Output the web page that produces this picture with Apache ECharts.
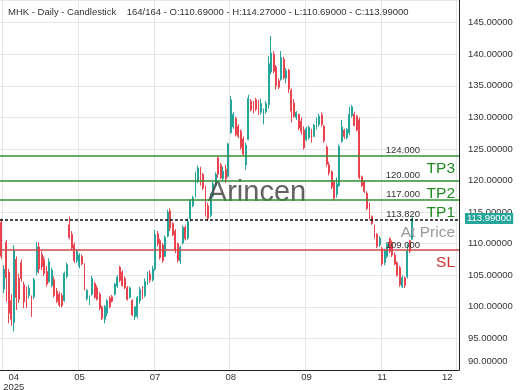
<!DOCTYPE html>
<html><head><meta charset="utf-8">
<script src="https://cdn.jsdelivr.net/npm/echarts@6/dist/echarts.min.js"></script>
<style>html,body{margin:0;padding:0;background:#fff}#c{width:520px;height:390px}</style>
</head><body><div id="c"></div>
<script>
const symbolName = 'MHK';
const slotCount = 182;
const tickIndex = [1, 31, 61, 91, 121, 151, 181];
const tickText = ['04\n2025', '05', '07', '08', '09', '11', '12'];
// [open, close, low, high]
const candles = [
[113.4,108.0,107.6,114.0],[102.8,106.0,102.2,106.6],[110.2,104.6,100.8,110.6],[105.5,99.0,97.4,106.0],[101.0,98.0,97.0,102.0],
[97.5,109.0,96.1,109.8],[107.5,101.5,99.5,108.0],[104.5,101.2,100.6,105.3],[107.0,104.5,104.0,107.5],[103.5,100.8,99.8,104.0],
[102.8,100.3,99.8,103.2],[101.8,103.0,101.3,103.5],[101.3,98.8,98.4,101.8],[101.6,104.3,101.2,104.6],[105.5,109.5,105.0,110.3],
[109.5,106.0,105.3,110.2],[108.3,106.4,105.8,108.8],[107.5,105.3,104.9,108.0],[105.6,103.6,103.2,106.5],[104.0,107.2,103.8,107.7],
[103.4,105.8,103.1,106.2],[104.3,101.8,101.5,104.8],[102.5,100.9,100.6,103.0],[102.0,100.3,100.0,102.4],[101.8,100.2,99.9,102.2],
[101.0,105.3,100.8,105.6],[104.8,106.7,104.5,107.0],[113.0,111.0,110.7,114.3],[111.5,109.3,109.0,112.0],[109.8,107.3,107.0,110.2],
[107.3,108.8,107.0,109.0],[106.5,108.2,106.1,108.5],[108.0,106.8,106.6,108.3],[106.6,103.0,102.6,106.9],[101.3,102.6,101.0,102.8],
[100.5,101.5,100.3,101.8],[102.0,104.5,101.8,104.9],[103.7,101.5,101.3,104.0],[103.0,101.2,101.0,103.4],[102.0,99.8,99.5,102.3],
[100.0,98.2,97.9,100.2],[98.0,100.0,97.4,100.3],[99.0,101.0,98.5,101.2],[101.4,100.0,99.8,101.7],[101.6,100.9,100.7,101.9],
[102.0,103.6,101.8,103.8],[103.3,104.7,103.0,105.0],[106.3,104.2,103.9,106.5],[105.5,103.4,103.2,105.8],[104.5,103.0,102.8,104.8],
[103.0,101.2,101.0,103.3],[101.5,103.0,101.3,103.2],[101.0,98.7,98.5,101.2],[98.4,100.0,97.9,100.1],[98.5,101.5,98.2,101.7],
[101.0,102.8,100.5,103.2],[102.8,101.6,101.2,103.3],[101.8,104.0,101.5,104.5],[103.8,105.0,103.5,105.6],[105.2,104.2,103.8,105.8],
[104.3,106.0,104.0,106.5],[106.0,111.5,105.7,112.2],[111.6,110.0,109.6,112.0],[110.5,107.8,107.5,110.8],[109.8,107.3,107.0,110.1],
[108.0,111.0,107.9,111.3],[111.2,115.0,111.0,115.4],[115.2,112.5,112.0,115.6],[113.2,111.4,111.2,113.4],[112.0,109.0,108.5,112.3],
[110.0,107.4,107.0,110.2],[107.3,109.4,106.8,109.7],[110.1,112.6,109.9,112.9],[112.6,110.8,110.5,112.9],[110.9,113.5,110.6,114.0],
[114.0,116.8,113.5,117.1],[116.0,117.3,115.8,117.6],[117.5,121.0,117.3,121.4],[120.0,122.0,119.6,122.4],[122.0,119.5,119.2,122.2],
[121.0,118.8,118.5,121.2],[119.0,114.6,114.3,119.2],[116.0,114.0,113.6,116.5],[114.5,117.6,114.2,118.0],[117.5,119.5,117.3,119.8],
[119.2,121.0,119.0,121.3],[123.6,121.0,120.4,123.8],[122.5,120.4,120.2,122.8],[120.3,121.5,119.9,122.2],[121.8,120.2,119.6,122.5],
[120.7,125.8,120.5,126.0],[127.6,132.8,127.4,133.4],[128.5,130.5,128.2,130.8],[129.8,127.3,127.0,130.1],[128.6,127.0,126.7,128.9],
[127.8,125.2,124.9,128.1],[126.6,124.2,123.9,127.0],[122.5,125.6,121.7,126.0],[126.5,133.0,126.4,133.6],[132.6,131.2,131.0,132.9],
[132.3,130.8,130.6,132.6],[132.8,131.3,131.0,133.1],[132.6,130.6,130.4,132.8],[130.8,132.2,130.4,133.0],[129.3,131.0,128.9,131.4],
[130.9,132.2,130.6,132.6],[132.0,138.5,131.4,139.7],[137.2,140.2,136.8,142.9],[140.0,137.3,137.0,140.5],[138.0,135.0,134.4,138.3],
[135.8,134.8,134.5,136.2],[136.0,139.5,135.8,140.5],[139.2,136.3,136.0,139.6],[136.2,137.4,135.4,137.8],[137.5,134.5,133.9,137.7],
[134.3,131.0,129.2,134.6],[132.3,130.2,130.0,132.9],[130.0,130.8,129.6,131.0],[130.5,128.3,128.0,130.6],[129.4,127.8,127.3,130.0],
[128.0,125.2,124.9,128.6],[126.5,128.2,126.2,128.5],[126.8,128.4,126.5,128.7],[128.0,126.5,126.0,128.2],[127.0,128.8,126.9,129.0],
[128.3,129.6,128.1,130.0],[128.9,130.2,128.5,130.6],[130.4,128.9,128.6,130.8],[128.6,126.3,126.0,128.8],[125.3,122.6,122.2,125.6],
[122.5,121.2,120.8,123.0],[121.4,119.0,118.6,121.6],[119.8,117.2,116.9,120.0],[117.8,119.5,117.3,120.5],[119.2,125.4,119.0,125.7],
[126.2,128.5,126.0,129.6],[128.0,127.0,126.6,128.2],[126.8,128.1,126.5,128.3],[127.6,130.5,127.2,131.7],[130.3,131.7,130.0,132.0],
[130.5,128.7,128.6,130.9],[130.2,128.0,127.8,130.4],[129.6,120.5,120.2,130.0],[120.6,119.2,119.0,120.8],[119.8,118.3,118.0,120.0],
[118.0,115.6,115.3,118.3],[116.3,114.0,113.8,116.5],[114.3,113.2,113.0,114.5],[112.8,111.0,110.8,113.0],[111.5,109.6,109.3,111.7],
[109.8,110.9,109.5,111.2],[109.2,106.8,106.5,109.5],[107.0,108.9,106.6,109.2],[108.0,109.9,107.7,110.2],[110.8,108.8,108.5,111.0],
[110.2,108.2,107.9,110.5],[108.2,106.8,106.6,108.6],[107.0,105.0,104.8,107.2],[106.2,103.5,103.2,106.5],[103.2,104.6,103.0,105.0],
[104.6,103.4,103.0,104.8],[104.8,109.0,104.5,110.0],[110.5,108.8,108.5,110.6],[110.69,113.99,110.69,114.27]
];
const levelValues = [124, 120, 117, 113.82, 109];
const levelNumbers = ['124.000', '120.000', '117.000', '113.820', '109.000'];
const levelTags = ['TP3', 'TP2', 'TP1', 'At Price', 'SL'];
const levelLineColors = ['#338f33', '#338f33', '#338f33', '#111111', '#d04a4a'];
const levelTagColors = ['#218a21', '#218a21', '#218a21', '#9a9a9a', '#d32f2f'];
const lastPrice = 113.99;
const yMin = 90, yMax = 148.6, yStep = 5;

const FONT = 'Liberation Sans, Arial, sans-serif';
const categories = [];
for (let i = 0; i < slotCount; i++) {
  const k = tickIndex.indexOf(i);
  categories.push(k >= 0 ? tickText[k] : 'd' + i);
}
const last = candles[candles.length - 1];
const titleText = symbolName + ' - Daily - Candlestick    ' + candles.length + '/' + candles.length +
  ' - O:' + last[0].toFixed(5) + ' - H:' + last[3].toFixed(5) + ' - L:' + last[2].toFixed(5) + ' - C:' + last[1].toFixed(5);

const lineData = levelValues.map((v, k) => ({
  yAxis: v,
  lineStyle: k === 3 ? {color: '#111', width: 1.5, type: [3, 2]} : {color: levelLineColors[k], width: 1.6, type: 'solid'},
  label: {show: true, position: 'insideEndTop', formatter: levelNumbers[k], distance: [39, 0],
    color: '#333', fontSize: 9.5, fontFamily: FONT}
}));
const tagData = levelValues.map((v, k) => ({
  yAxis: v,
  label: {show: true, position: 'insideEndBottom', formatter: levelTags[k], distance: [4, 5],
    color: levelTagColors[k], fontSize: 15.5, fontFamily: FONT}
}));
tagData.push({
  yAxis: lastPrice,
  label: {show: true, position: 'end', formatter: lastPrice.toFixed(5), distance: 6,
    backgroundColor: '#26a69a', color: '#fff', padding: [1, 2, 0, 2], fontSize: 9.5, fontFamily: FONT}
});

const isTick = (i) => tickIndex.indexOf(i) >= 0;
const chart = echarts.init(document.getElementById('c'), null, {renderer: 'canvas'});
chart.setOption({
  animation: false,
  backgroundColor: '#fff',
  title: {text: titleText, left: 8, top: 7, padding: 0,
    textStyle: {fontSize: 9.5, fontWeight: 'normal', color: '#333', fontFamily: FONT}},
  grid: {left: 0, right: 61, top: 0, bottom: 20, outerBoundsMode: 'none', containLabel: false},
  xAxis: {
    type: 'category', data: categories, boundaryGap: true,
    axisLine: {show: true, lineStyle: {color: '#222', width: 1}},
    axisTick: {show: false},
    splitLine: {show: true, interval: (i) => isTick(i), lineStyle: {color: '#e6e6e6', width: 1}},
    axisLabel: {
      interval: (i) => isTick(i), margin: 2, fontSize: 9.5, color: '#333', fontFamily: FONT, lineHeight: 10,
      formatter: (v, i) => {
        if (i === tickIndex[0]) return v.split('\n').map(s => '{f|' + s + '}').join('\n');
        if (i === tickIndex[tickIndex.length - 1]) return '{l|' + v + '}';
        return v;
      },
      rich: {
        f: {padding: [0, 0, 0, 20], fontSize: 9.5, color: '#333', fontFamily: FONT, lineHeight: 10},
        l: {padding: [0, 21, 0, 0], fontSize: 9.5, color: '#333', fontFamily: FONT, lineHeight: 10}
      }
    }
  },
  yAxis: {
    type: 'value', position: 'right', min: yMin, max: yMax, interval: yStep, scale: true,
    axisLine: {show: true, lineStyle: {color: '#222', width: 1}},
    axisTick: {show: false},
    splitLine: {show: true, lineStyle: {color: '#e6e6e6', width: 1}},
    axisLabel: {
      margin: 9, fontSize: 9.5, color: '#333', fontFamily: FONT, showMaxLabel: false,
      formatter: (v) => v === yMin ? '{b|' + v.toFixed(5) + '}' : v.toFixed(5),
      rich: {b: {padding: [0, 0, 18, 0], fontSize: 9.5, color: '#333', fontFamily: FONT}}
    }
  },
  graphic: [{
    type: 'text', x: 257, y: 193, z: 5,
    style: {text: 'Arincen', fontSize: 29, fontFamily: FONT, fill: 'rgba(70,70,70,0.85)', align: 'center', verticalAlign: 'middle'}
  }],
  series: [{
    type: 'candlestick', data: candles, barWidth: 1.4, clip: false,
    itemStyle: {color: '#26a69a', color0: '#e8434f', borderColor: '#26a69a', borderColor0: '#e8434f', borderWidth: 1},
    markLine: {silent: true, symbol: ['none', 'none'], animation: false, z: 10, data: lineData}
  }, {
    type: 'line', data: [], clip: false, silent: true,
    markLine: {silent: true, symbol: ['none', 'none'], animation: false, z: 11,
      lineStyle: {color: 'rgba(255,255,255,0)', width: 1}, data: tagData}
  }]
});
</script></body></html>
